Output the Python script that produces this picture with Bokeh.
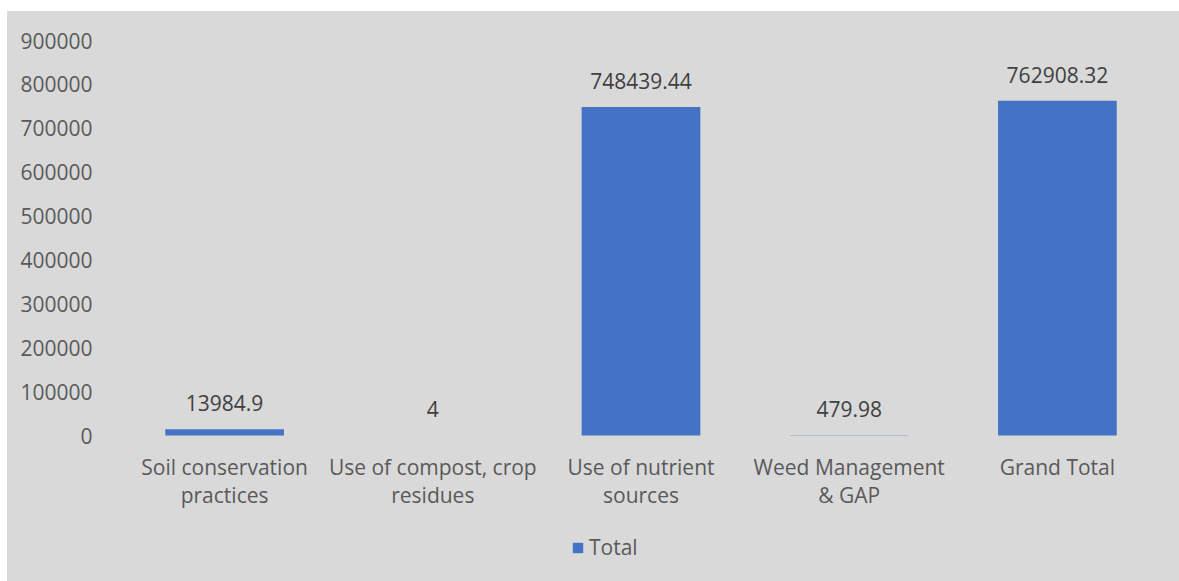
from bokeh.plotting import figure
from bokeh.models import ColumnDataSource, Range1d, FactorRange, FixedTicker, Legend, LegendItem
from bokeh.core.properties import value
from bokeh.embed import file_html
from bokeh.resources import INLINE

categories = [
    "Soil conservation\npractices",
    "Use of compost, crop\nresidues",
    "Use of nutrient\nsources",
    "Weed Management\n& GAP",
    "Grand Total",
]
totals = [13984.9, 4, 748439.44, 479.98, 762908.32]
total_labels = ["13984.9", "4", "748439.44", "479.98", "762908.32"]
y_ticks = [0, 100000, 200000, 300000, 400000, 500000, 600000, 700000, 800000, 900000]

FONT = "Open Sans"
BG = "#d9d9d9"
BAR = "#4472c4"

# Plot geometry: the value axis spans 395 px from 0 to the top tick; the frame
# continues below zero so the category captions and legend sit inside it.
FIG_W, FIG_H = 1172, 570
TOP_BORDER = 29
AXIS_PX = 395
frame_h = FIG_H - TOP_BORDER
y_max = y_ticks[-1]
y_min = -y_max * (frame_h - AXIS_PX) / AXIS_PX

src = ColumnDataSource(dict(cat=categories, total=totals, label=total_labels,
                            base=[0] * len(categories)))

p = figure(
    x_range=FactorRange(*categories, range_padding=0),
    y_range=Range1d(y_min, y_max),
    width=FIG_W, height=FIG_H,
    output_backend="svg", toolbar_location=None,
    min_border_left=113, min_border_right=18,
    min_border_top=TOP_BORDER, min_border_bottom=0,
    background_fill_alpha=0, border_fill_alpha=0,
    outline_line_color=None,
)
p.margin = (11, 0, 0, 7)
# one continuous chart-area fill behind the canvas
p.styles = {"background-color": BG}

bars = p.vbar(x="cat", top="total", width=0.57, source=src,
              fill_color=BAR, line_color=None)

# value labels above each bar
p.text(x="cat", y="total", text="label", source=src,
       text_align="center", text_baseline="bottom", y_offset=-18,
       text_font=value(FONT), text_font_size="21px", text_color="#404040")

# category captions under the zero line
p.text(x="cat", y="base", text="cat", source=src,
       text_align="center", text_baseline="top", y_offset=17,
       text_line_height=1.0,
       text_font=value(FONT), text_font_size="21px", text_color="#595959")

p.xgrid.visible = False
p.ygrid.visible = False
p.xaxis.visible = False

p.yaxis.ticker = FixedTicker(ticks=y_ticks)
p.yaxis.formatter.use_scientific = False
p.yaxis.axis_line_color = None
p.yaxis.major_tick_line_color = None
p.yaxis.minor_tick_line_color = None
p.yaxis.major_label_standoff = 22
p.yaxis.major_label_text_font = FONT
p.yaxis.major_label_text_font_size = "21px"
p.yaxis.major_label_text_color = "#595959"

legend = Legend(
    items=[LegendItem(label="Total", renderers=[bars])],
    orientation="horizontal", location=(451, 20),
    background_fill_alpha=0, border_line_color=None,
    padding=0, margin=0, spacing=0,
    glyph_width=13, glyph_height=13, label_standoff=5,
    label_text_font=FONT, label_text_font_size="21px",
    label_text_color="#595959",
)
p.add_layout(legend, "center")

open("out.html", "w").write(file_html(p, INLINE))
